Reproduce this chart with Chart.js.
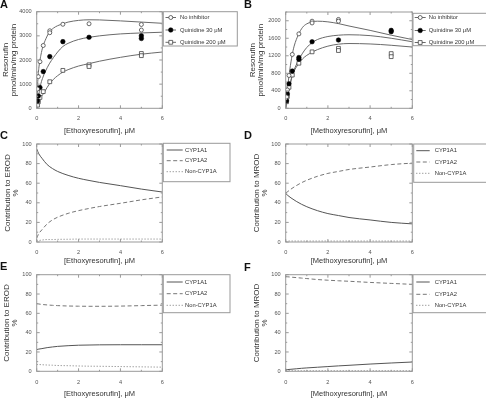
<!DOCTYPE html>
<html>
<head>
<meta charset="utf-8">
<script src="https://cdn.jsdelivr.net/npm/chart.js@4.4.0/dist/chart.umd.min.js"></script>
<style>
  html, body { margin: 0; padding: 0; background: #fff; }
  #fig { position: relative; width: 486px; height: 400px; overflow: hidden; font-family: "Liberation Sans", Arial, sans-serif; }
  #fig canvas { position: absolute; }
  .tag { position: absolute; font-weight: bold; font-size: 11px; line-height: 11px; color: #111; }
</style>
</head>
<body>
<div id="fig">
  <canvas id="chartA" width="243" height="136" style="left:0;top:0"></canvas>
  <canvas id="chartB" width="243" height="136" style="left:243px;top:0"></canvas>
  <canvas id="chartC" width="243" height="136" style="left:0;top:131px"></canvas>
  <canvas id="chartD" width="243" height="136" style="left:243px;top:131px"></canvas>
  <canvas id="chartE" width="243" height="138" style="left:0;top:262px"></canvas>
  <canvas id="chartF" width="243" height="138" style="left:243px;top:262px"></canvas>
  <div class="tag" style="left:0;top:-1px">A</div>
  <div class="tag" style="left:244px;top:-1px">B</div>
  <div class="tag" style="left:0;top:130px">C</div>
  <div class="tag" style="left:244px;top:130px">D</div>
  <div class="tag" style="left:0;top:261px">E</div>
  <div class="tag" style="left:244px;top:262px">F</div>
</div>

<script>
// ---- data ----

// substrate concentrations of the measured points (uM)
const erodNoInhX = [0.039, 0.078, 0.156, 0.3125, 0.625, 0.625, 1.25, 2.5, 5, 5];
const erodNoInhY = [800, 1310, 1930, 2600, 3210, 3130, 3480, 3500, 3470, 3240];
const erodQ30X = [0.039, 0.078, 0.156, 0.3125, 0.625, 1.25, 2.5, 5, 5];
const erodQ30Y = [300, 510, 860, 1520, 2140, 2760, 2940, 3000, 2890];
const erodQ200X = [0.039, 0.078, 0.156, 0.3125, 0.625, 1.25, 2.5, 2.5, 5, 5];
const erodQ200Y = [130, 270, 450, 690, 1100, 1570, 1800, 1730, 2270, 2180];

const mrodNoInhX = [0.039, 0.078, 0.156, 0.3125, 0.625, 1.25, 1.25, 2.5, 2.5];
const mrodNoInhY = [260, 420, 750, 1230, 1700, 1990, 1950, 2030, 1990];
const mrodQ30X = [0.039, 0.078, 0.156, 0.3125, 0.625, 0.625, 1.25, 2.5, 5, 5];
const mrodQ30Y = [170, 330, 560, 850, 1160, 1120, 1520, 1560, 1780, 1750];
const mrodQ200X = [0.039, 0.078, 0.156, 0.3125, 0.625, 1.25, 2.5, 2.5, 5, 5];
const mrodQ200Y = [150, 270, 480, 760, 1030, 1290, 1370, 1320, 1250, 1180];

// fitted curves
const fitX = [0, 0.05, 0.1, 0.2, 0.3, 0.4, 0.6, 0.8, 1, 1.25, 1.5, 2, 2.5, 3, 4, 5, 6];
const erodFitNoInh = [0, 1100, 1650, 2200, 2570, 2800, 3150, 3320, 3420, 3500, 3570, 3640, 3665, 3660, 3620, 3570, 3520];
const erodFitQ30 = [0, 300, 560, 1020, 1290, 1500, 1840, 2100, 2330, 2560, 2690, 2850, 2940, 3000, 3080, 3120, 3150];
const erodFitQ200 = [0, 150, 270, 450, 580, 720, 1000, 1200, 1350, 1500, 1600, 1750, 1850, 1950, 2110, 2240, 2330];
const mrodFitNoInh = [0, 300, 520, 900, 1200, 1420, 1680, 1850, 1930, 1975, 1990, 1975, 1935, 1880, 1780, 1670, 1570];
const mrodFitQ30 = [0, 150, 290, 530, 740, 880, 1090, 1260, 1390, 1500, 1570, 1640, 1670, 1680, 1660, 1600, 1520];
const mrodFitQ200 = [0, 150, 290, 520, 720, 850, 1010, 1130, 1210, 1280, 1340, 1420, 1465, 1480, 1470, 1440, 1400];

// contribution curves (%)
const shareX = [0, 0.1, 0.25, 0.5, 0.75, 1, 1.5, 2, 2.5, 3, 4, 5, 6];
const erodA1 = [95, 90, 85.5, 79, 75, 72, 68, 65, 62.8, 60.8, 57.5, 54, 51];
const erodA2 = [4, 8.5, 12.5, 18.5, 22.5, 25.3, 29.2, 32, 34.2, 36.2, 39.5, 43, 46];
const erodNon = [1, 1.5, 2, 2.5, 2.5, 2.7, 2.8, 3, 3, 3, 3, 3, 3];
const mrodA1 = [49.5, 47.5, 45, 41.5, 38.5, 36, 32, 29, 27, 25, 22.5, 20, 18.5];
const mrodA2 = [50, 51.5, 54, 57.5, 60.5, 63, 67, 70, 72, 74, 76.5, 79, 80.5];
const mrodNon = [0.5, 1, 1, 1, 1, 1, 1, 1, 1, 1, 1, 1, 1];
const erodA1q = [22.5, 23, 23.5, 24.5, 25.2, 25.8, 26.5, 27, 27.2, 27.4, 27.5, 27.5, 27.5];
const erodA2q = [70, 69.7, 69.2, 68.7, 68.3, 68, 67.6, 67.4, 67.3, 67.3, 67.5, 68, 68.5];
const erodNonq = [7, 7, 6.8, 6.5, 6.3, 6, 5.8, 5.5, 5.3, 5.2, 4.9, 4.6, 4.3];
const mrodA1q = [1.5, 1.8, 2.1, 2.6, 3.1, 3.5, 4.2, 4.9, 5.6, 6.2, 7.5, 8.6, 9.6];
const mrodA2q = [98, 97.8, 97.5, 97, 96.5, 96, 95, 94.3, 93.7, 93.2, 92, 91, 90];
const mrodNonq = [0.6, 0.6, 0.6, 0.6, 0.6, 0.6, 0.6, 0.6, 0.6, 0.6, 0.6, 0.6, 0.6];

// axes
const xTicks = [0, 2, 4, 6];
const xMinor = [1, 3, 5];
const erodRateTicks = [0, 1000, 2000, 3000, 4000];
const erodRateMinor = [500, 1500, 2500, 3500];
const mrodRateTicks = [0, 400, 800, 1200, 1600, 2000];
const mrodRateMinor = [200, 600, 1000, 1400, 1800, 2200];
const pctTicks = [0, 20, 40, 60, 80, 100];
const pctMinor = [10, 30, 50, 70, 90];

const inhibLabels = ['No inhibitor', 'Quinidine 30 \u03bcM', 'Quinidine 200 \u03bcM'];
const formLabels = ['CYP1A1', 'CYP1A2', 'Non-CYP1A'];


// ---- drawing ----
const FONT = '"Liberation Sans", Arial, Helvetica, sans-serif';
Chart.defaults.font.family = FONT;
Chart.defaults.color = '#555';
Chart.defaults.animation = false;

function pts(xs, ys) {
    return xs.map(function (x, i) { return { x: x, y: ys[i] }; });
}

// box frame with inward ticks on all four sides + boxed legend
const framePlugin = {
    id: 'frame',
    afterDraw: function (chart, args, o) {
        const ctx = chart.ctx;
        const a = chart.chartArea;
        const sx = chart.scales.x, sy = chart.scales.y;
        ctx.save();
        ctx.strokeStyle = '#999';
        ctx.lineWidth = 1;
        ctx.setLineDash([]);
        ctx.strokeRect(a.left, a.top, a.right - a.left, a.bottom - a.top);

        function xt(v, len) {
            const p = sx.getPixelForValue(v);
            ctx.beginPath();
            ctx.moveTo(p, a.bottom); ctx.lineTo(p, a.bottom - len);
            ctx.moveTo(p, a.top); ctx.lineTo(p, a.top + len);
            ctx.stroke();
        }
        function yt(v, len) {
            const p = sy.getPixelForValue(v);
            ctx.beginPath();
            ctx.moveTo(a.left, p); ctx.lineTo(a.left + len, p);
            ctx.moveTo(a.right, p); ctx.lineTo(a.right - len, p);
            ctx.stroke();
        }
        o.xMajor.forEach(function (v) { xt(v, 3); });
        o.xMinor.forEach(function (v) { xt(v, 1.5); });
        o.yMajor.forEach(function (v) { yt(v, 3); });
        o.yMinor.forEach(function (v) { if (v <= sy.max) yt(v, 1.5); });

        // legend
        const L = o.legend;
        ctx.strokeStyle = '#999';
        ctx.strokeRect(L.box[0], L.box[1], L.box[2] - L.box[0], L.box[3] - L.box[1]);
        ctx.font = '5.8px ' + FONT;
        ctx.textBaseline = 'middle';
        ctx.textAlign = 'left';
        L.items.forEach(function (it, i) {
            const y = L.rows[i];
            const line = chart.data.datasets[it.line];
            ctx.strokeStyle = line.borderColor;
            ctx.lineWidth = 1;
            ctx.setLineDash(line.borderDash || []);
            ctx.beginPath();
            ctx.moveTo(L.sample[0], y); ctx.lineTo(L.sample[1], y);
            ctx.stroke();
            ctx.setLineDash([]);
            if (it.mark != null) {
                const m = chart.data.datasets[it.mark];
                ctx.fillStyle = m.pointBackgroundColor;
                ctx.strokeStyle = m.pointBorderColor;
                ctx.lineWidth = m.pointBorderWidth;
                Chart.helpers.drawPoint(ctx, { pointStyle: m.pointStyle, radius: m.pointRadius, borderWidth: m.pointBorderWidth, rotation: 0 },
                    (L.sample[0] + L.sample[1]) / 2, y);
            }
            ctx.fillStyle = '#333';
            ctx.fillText(it.label, L.textX, y);
        });
        ctx.restore();
    }
};

function plain(v) { return String(v); }

function makeChart(id, g, datasets, yMax, yTicks, yMinor, yTitle, xTitle, legend) {
    const cv = document.getElementById(id);
    const W = cv.width, H = cv.height;
    return new Chart(cv, {
        type: 'scatter',
        data: { datasets: datasets },
        plugins: [framePlugin],
        options: {
            responsive: false,
            animation: false,
            layout: { padding: { top: g.top, right: W - g.right, left: 0, bottom: 0 } },
            plugins: {
                legend: { display: false },
                tooltip: { enabled: false },
                frame: { xMajor: xTicks, xMinor: xMinor, yMajor: yTicks, yMinor: yMinor, legend: legend }
            },
            scales: {
                x: {
                    type: 'linear', min: 0, max: 6,
                    grid: { display: false, drawTicks: false },
                    border: { display: false },
                    afterFit: function (s) { s.height = H - g.bottom; },
                    afterBuildTicks: function (s) { s.ticks = xTicks.map(function (v) { return { value: v }; }); },
                    ticks: { padding: g.xPad, font: { size: 5.6 }, color: '#555', callback: plain },
                    title: { display: true, text: xTitle, color: '#333', font: { size: 7.5, lineHeight: 1.2 }, padding: { top: 0, bottom: g.xTitlePad } }
                },
                y: {
                    type: 'linear', min: 0, max: yMax,
                    grid: { display: false, drawTicks: false },
                    border: { display: false },
                    afterFit: function (s) { s.width = g.left; },
                    afterBuildTicks: function (s) { s.ticks = yTicks.map(function (v) { return { value: v }; }); },
                    ticks: { padding: 5, font: { size: 5.6 }, color: '#555', callback: plain },
                    title: { display: true, text: yTitle, color: '#333', font: { size: 8, lineHeight: 1 }, padding: { top: g.yTitlePad, bottom: 0 } }
                }
            }
        }
    });
}

// kinetics panels: scatter markers first so they sit above the curves
function kineticsSets(nx, ny, q30x, q30y, q200x, q200y, f0, f30, f200) {
    const curve = '#6a6a6a';
    return [
        { label: inhibLabels[0], data: pts(nx, ny), pointStyle: 'circle', pointRadius: 2, pointBorderWidth: 0.8,
          pointBackgroundColor: '#fff', pointBorderColor: '#444', showLine: false },
        { label: inhibLabels[1], data: pts(q30x, q30y), pointStyle: 'circle', pointRadius: 2.3, pointBorderWidth: 0.5,
          pointBackgroundColor: '#000', pointBorderColor: '#000', showLine: false },
        { label: inhibLabels[2], data: pts(q200x, q200y), pointStyle: 'rect', pointRadius: 2.7, pointBorderWidth: 0.8,
          pointBackgroundColor: '#fff', pointBorderColor: '#444', showLine: false },
        { data: pts(fitX, f0), showLine: true, pointRadius: 0, borderColor: curve, borderWidth: 1, cubicInterpolationMode: 'monotone' },
        { data: pts(fitX, f30), showLine: true, pointRadius: 0, borderColor: curve, borderWidth: 1, cubicInterpolationMode: 'monotone' },
        { data: pts(fitX, f200), showLine: true, pointRadius: 0, borderColor: curve, borderWidth: 1, cubicInterpolationMode: 'monotone' }
    ];
}

function shareSets(a1, a2, non) {
    return [
        { label: formLabels[0], data: pts(shareX, a1), showLine: true, pointRadius: 0, borderColor: '#555', borderWidth: 1, cubicInterpolationMode: 'monotone' },
        { label: formLabels[1], data: pts(shareX, a2), showLine: true, pointRadius: 0, borderColor: '#777', borderWidth: 1, borderDash: [4, 2.5], cubicInterpolationMode: 'monotone' },
        { label: formLabels[2], data: pts(shareX, non), showLine: true, pointRadius: 0, borderColor: '#777', borderWidth: 1, borderDash: [1, 2], cubicInterpolationMode: 'monotone' }
    ];
}

const kinItems = [
    { line: 3, mark: 0, label: inhibLabels[0] },
    { line: 4, mark: 1, label: inhibLabels[1] },
    { line: 5, mark: 2, label: inhibLabels[2] }
];
const shareItems = [
    { line: 0, label: formLabels[0] },
    { line: 1, label: formLabels[1] },
    { line: 2, label: formLabels[2] }
];

const rateTitle = ['Resorufin', 'pmol/min/mg protein'];
const erodTitle = '[Ethoxyresorufin], \u03bcM';
const mrodTitle = '[Methoxyresorufin], \u03bcM';

// A
makeChart('chartA',
    { left: 36.7, right: 162.3, top: 11.7, bottom: 108.3, xPad: 7, xTitlePad: 0.5, yTitlePad: 2 },
    kineticsSets(erodNoInhX, erodNoInhY, erodQ30X, erodQ30Y, erodQ200X, erodQ200Y, erodFitNoInh, erodFitQ30, erodFitQ200),
    4000, erodRateTicks, erodRateMinor, rateTitle, erodTitle,
    { box: [163.3, 11.7, 237.3, 46], rows: [17.5, 30, 42.3], sample: [165.5, 176], textX: 180, items: kinItems });

// B
makeChart('chartB',
    { left: 42.7, right: 169.3, top: 12, bottom: 108.3, xPad: 7, xTitlePad: 0.5, yTitlePad: 6 },
    kineticsSets(mrodNoInhX, mrodNoInhY, mrodQ30X, mrodQ30Y, mrodQ200X, mrodQ200Y, mrodFitNoInh, mrodFitQ30, mrodFitQ200),
    2200, mrodRateTicks, mrodRateMinor, rateTitle, mrodTitle,
    { box: [170, 13.3, 246, 45.7], rows: [17.5, 30.5, 42.5], sample: [171.7, 182.7], textX: 185.7, items: kinItems });

// C
makeChart('chartC',
    { left: 36.7, right: 162.3, top: 13, bottom: 111, xPad: 7, xTitlePad: 1.5, yTitlePad: 3.3 },
    shareSets(erodA1, erodA2, erodNon),
    100, pctTicks, pctMinor, ['Contribution to EROD', '%'], erodTitle,
    { box: [163.3, 12.3, 230, 50.7], rows: [19, 29.7, 40.7], sample: [166.7, 182.7], textX: 185, items: shareItems });

// D
makeChart('chartD',
    { left: 42.7, right: 169.3, top: 13, bottom: 111, xPad: 7, xTitlePad: 1.5, yTitlePad: 9.3 },
    shareSets(mrodA1, mrodA2, mrodNon),
    100, pctTicks, pctMinor, ['Contribution to MROD', '%'], mrodTitle,
    { box: [170.7, 13, 246, 51.3], rows: [19.7, 31, 42.3], sample: [173.3, 186.7], textX: 191.7, items: shareItems });

// E
makeChart('chartE',
    { left: 36.7, right: 162.3, top: 12.7, bottom: 109.3, xPad: 8, xTitlePad: 1.2, yTitlePad: 2.7 },
    shareSets(erodA1q, erodA2q, erodNonq),
    100, pctTicks, pctMinor, ['Contribution to EROD', '%'], erodTitle,
    { box: [163.3, 12.7, 230, 50.7], rows: [20, 31.7, 43.3], sample: [166.7, 182.7], textX: 185, items: shareItems });

// F
makeChart('chartF',
    { left: 42.7, right: 169.3, top: 12.7, bottom: 109.3, xPad: 8, xTitlePad: 1.2, yTitlePad: 9.3 },
    shareSets(mrodA1q, mrodA2q, mrodNonq),
    100, pctTicks, pctMinor, ['Contribution to MROD', '%'], mrodTitle,
    { box: [170, 12.7, 246, 50.7], rows: [20, 32.3, 43.3], sample: [173.3, 186.7], textX: 191.7, items: shareItems });
</script>
</body>
</html>
